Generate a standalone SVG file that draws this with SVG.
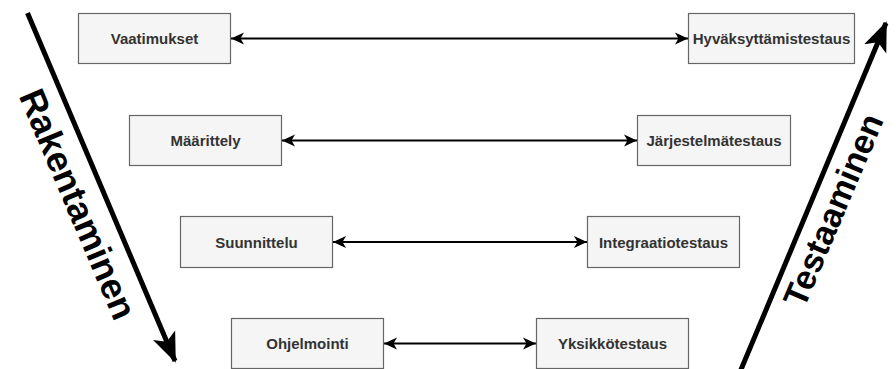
<svg xmlns="http://www.w3.org/2000/svg" width="896" height="369" viewBox="0 0 896 369">
<style>
.box{fill:#f5f5f5;stroke:#666666;stroke-width:1.2}
.lbl{font-family:"Liberation Sans",Arial,sans-serif;font-weight:bold;font-size:15px;fill:#333333;text-anchor:middle;dominant-baseline:central}
.conn{stroke:#000;stroke-width:2;fill:none}
.big{stroke:#000;stroke-width:5;fill:none}
.side{font-family:"Liberation Sans",Arial,sans-serif;font-weight:bold;font-size:36px;fill:#000;text-anchor:middle;dominant-baseline:central}
</style>
<defs>
<marker id="a" markerUnits="userSpaceOnUse" markerWidth="16" markerHeight="16" viewBox="0 0 16 16" refX="14" refY="8" orient="auto-start-reverse">
<path d="M14,8 L1,2 L4.5,8 L1,14 Z" fill="#000"/>
</marker>
<marker id="b" markerUnits="userSpaceOnUse" markerWidth="32" markerHeight="28" viewBox="0 0 32 28" refX="28" refY="14" orient="auto">
<path d="M30,14 L0,2 L7,14 L0,26 Z" fill="#000"/>
</marker>
</defs>
<g id="connectors">
<line class="conn" x1="231" y1="38.5" x2="688" y2="38.5" marker-start="url(#a)" marker-end="url(#a)"/>
<line class="conn" x1="282" y1="140.5" x2="637" y2="140.5" marker-start="url(#a)" marker-end="url(#a)"/>
<line class="conn" x1="333" y1="242" x2="587" y2="242" marker-start="url(#a)" marker-end="url(#a)"/>
<line class="conn" x1="384" y1="343.5" x2="536" y2="343.5" marker-start="url(#a)" marker-end="url(#a)"/>
</g>
<g id="arrow-rakentaminen">
<line class="big" x1="27.5" y1="13" x2="175" y2="361" marker-end="url(#b)"/>
<text class="side" x="78" y="204" transform="rotate(67 78 204)">Rakentaminen</text>
</g>
<g id="arrow-testaaminen">
<line class="big" x1="740" y1="372" x2="886" y2="23" marker-end="url(#b)"/>
<text class="side" x="833" y="210" transform="rotate(-67 833 210)" style="font-size:34px">Testaaminen</text>
</g>
<g id="vaatimukset"><rect class="box" x="78.5" y="13.5" width="152" height="50"/><text class="lbl" x="154.5" y="38.5">Vaatimukset</text></g>
<g id="hyvaksyttamistestaus"><rect class="box" x="688.5" y="13.5" width="166" height="50"/><text class="lbl" x="771.5" y="38.5">Hyväksyttämistestaus</text></g>
<g id="maarittely"><rect class="box" x="129.5" y="115.5" width="152" height="50"/><text class="lbl" x="205.5" y="140.5">Määrittely</text></g>
<g id="jarjestelmatestaus"><rect class="box" x="637.5" y="115.5" width="153" height="50"/><text class="lbl" x="714" y="140.5">Järjestelmätestaus</text></g>
<g id="suunnittelu"><rect class="box" x="180.5" y="216.5" width="152" height="51"/><text class="lbl" x="256.5" y="242">Suunnittelu</text></g>
<g id="integraatiotestaus"><rect class="box" x="587.5" y="216.5" width="152" height="51"/><text class="lbl" x="663.5" y="242">Integraatiotestaus</text></g>
<g id="ohjelmointi"><rect class="box" x="231.5" y="318.5" width="152" height="50"/><text class="lbl" x="307.5" y="343.5">Ohjelmointi</text></g>
<g id="yksikkotestaus"><rect class="box" x="536.5" y="318.5" width="152" height="50"/><text class="lbl" x="612.5" y="343.5">Yksikkötestaus</text></g>
</svg>
